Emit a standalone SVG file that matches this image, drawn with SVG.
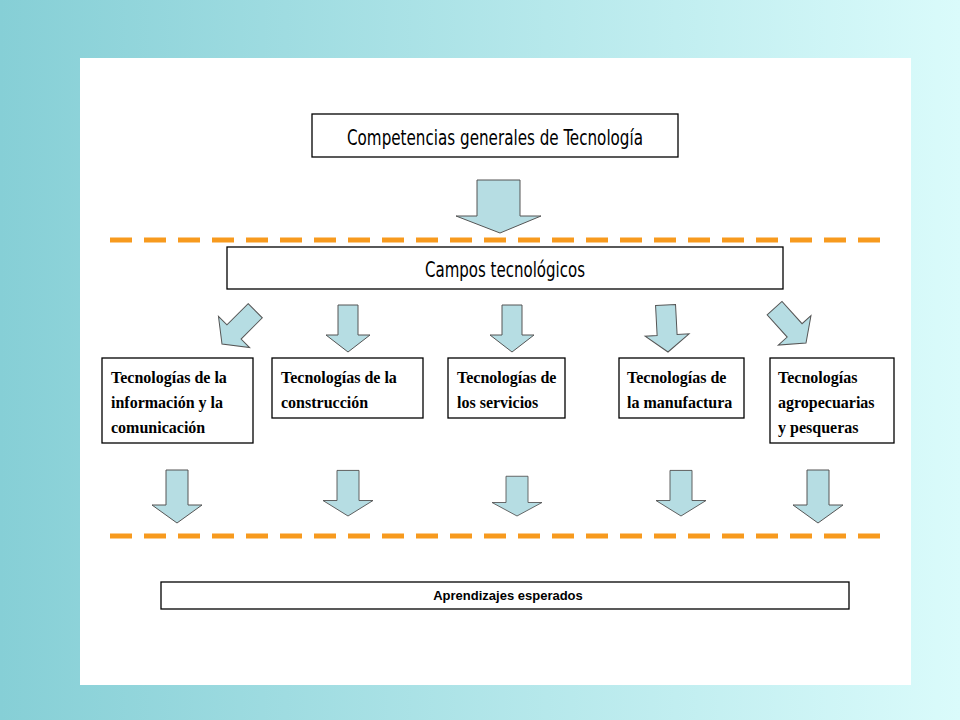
<svg xmlns="http://www.w3.org/2000/svg" width="960" height="720" viewBox="0 0 960 720">
<defs>
<linearGradient id="bg" x1="0" x2="1" y1="0" y2="0"><stop offset="0" stop-color="#86cfd6"/><stop offset="1" stop-color="#dafbfb"/></linearGradient>
<path id="da" d="M-10,-47 H10 V-17 H22 L0,0 L-22,-17 H-10 Z"/>
<path id="ad" d="M-11,-53 H11 V-18 H25 L0,0 L-25,-18 H-11 Z"/>
</defs>
<style>
.b{fill:#fff;stroke:#000;stroke-width:1.3}
.a{fill:#b6dde3;stroke:#555;stroke-width:1}
.d{stroke:#f79a1e;stroke-width:5;stroke-dasharray:22 12;fill:none}
.c{font-family:"DejaVu Sans Condensed","Liberation Sans Narrow","Liberation Serif",serif;font-size:22px}
.t{font-family:"Liberation Serif",serif;font-weight:bold;font-size:16px}
.s{font-family:"Liberation Sans",sans-serif;font-weight:bold;font-size:13px}
</style>
<rect width="960" height="720" fill="url(#bg)"/>
<rect x="80" y="58" width="831" height="627" fill="#fff"/>
<g id="connectors">
<line class="d" x1="110" y1="240" x2="890" y2="240"/>
<line class="d" x1="110" y1="536" x2="890" y2="536"/>
<path class="a" d="M477,180 H520 V216 H541 L500,233 L456,216 H477 Z"/>
<use href="#da" class="a" transform="translate(222,344) rotate(45)"/>
<use href="#da" class="a" transform="translate(348,352)"/>
<use href="#da" class="a" transform="translate(512,352)"/>
<use href="#da" class="a" transform="translate(668,352) rotate(-3)"/>
<use href="#da" class="a" transform="translate(806,343) rotate(-42)"/>
<use href="#ad" class="a" transform="translate(177,523)"/>
<use href="#ad" class="a" transform="translate(348,516) scale(1,0.86)"/>
<use href="#ad" class="a" transform="translate(517,516) scale(1,0.75)"/>
<use href="#ad" class="a" transform="translate(681,516) scale(1,0.86)"/>
<use href="#ad" class="a" transform="translate(818,523)"/>
</g>
<g id="n1"><rect class="b" x="312" y="114" width="366" height="43"/><text class="c" x="495" y="145" text-anchor="middle" textLength="296" lengthAdjust="spacingAndGlyphs">Competencias generales de Tecnología</text></g>
<g id="n2"><rect class="b" x="227" y="247" width="556" height="42"/><text class="c" x="505" y="277" text-anchor="middle" textLength="160" lengthAdjust="spacingAndGlyphs">Campos tecnológicos</text></g>
<g id="n3"><rect class="b" x="102" y="358" width="151" height="85"/><text class="t" x="111" y="383">Tecnologías de la</text><text class="t" x="111" y="408">información y la</text><text class="t" x="111" y="433">comunicación</text></g>
<g id="n4"><rect class="b" x="272" y="358" width="151" height="60"/><text class="t" x="281" y="383">Tecnologías de la</text><text class="t" x="281" y="408">construcción</text></g>
<g id="n5"><rect class="b" x="448" y="358" width="117" height="60"/><text class="t" x="457" y="383">Tecnologías de</text><text class="t" x="457" y="408">los servicios</text></g>
<g id="n6"><rect class="b" x="619" y="358" width="125" height="60"/><text class="t" x="627" y="383">Tecnologías de</text><text class="t" x="627" y="408">la manufactura</text></g>
<g id="n7"><rect class="b" x="770" y="358" width="124" height="85"/><text class="t" x="778" y="383">Tecnologías</text><text class="t" x="778" y="408">agropecuarias</text><text class="t" x="778" y="433">y pesqueras</text></g>
<g id="n8"><rect class="b" x="161" y="582" width="688" height="27"/><text class="s" x="508" y="600" text-anchor="middle">Aprendizajes esperados</text></g>
</svg>
